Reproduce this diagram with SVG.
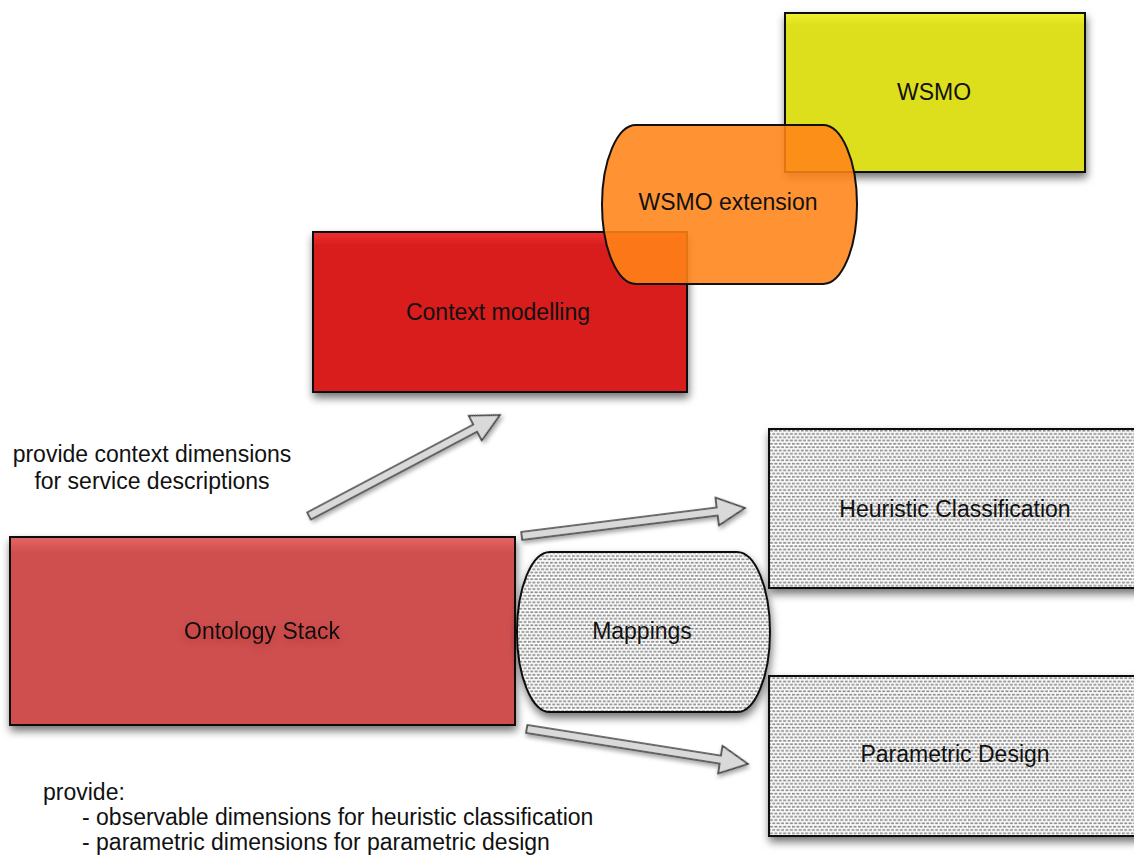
<svg xmlns="http://www.w3.org/2000/svg" width="1134" height="857" viewBox="0 0 1134 857">
  <defs>
    <filter id="shadow" x="-10%" y="-10%" width="125%" height="130%">
      <feDropShadow dx="1" dy="5" stdDeviation="4" flood-color="#000" flood-opacity="0.55"/>
    </filter>
    <filter id="arrowShadow" x="-10%" y="-30%" width="125%" height="170%">
      <feDropShadow dx="1" dy="3" stdDeviation="2" flood-color="#000" flood-opacity="0.35"/>
    </filter>
    <filter id="textGlow" x="-20%" y="-60%" width="140%" height="220%">
      <feGaussianBlur in="SourceAlpha" stdDeviation="5"/>
      <feOffset dy="3" result="b"/>
      <feFlood flood-color="#7a1010" flood-opacity="0.35"/>
      <feComposite in2="b" operator="in"/>
      <feMerge><feMergeNode/><feMergeNode in="SourceGraphic"/></feMerge>
    </filter>
    <!-- dashed halftone fill used by the method boxes -->
    <pattern id="dots" width="4.4" height="6.6" patternUnits="userSpaceOnUse">
      <rect width="4.4" height="6.6" fill="#ffffff"/>
      <rect x="0" y="0.8" width="3" height="1.7" fill="#8a8a8a"/>
      <rect x="2.2" y="4.1" width="3" height="1.7" fill="#8a8a8a"/>
      <rect x="-2.2" y="4.1" width="3" height="1.7" fill="#8a8a8a"/>
    </pattern>
    <linearGradient id="ontoFill" x1="0" y1="0" x2="0" y2="1">
      <stop offset="0" stop-color="#e76464"/>
      <stop offset="0.08" stop-color="#cf5050"/>
      <stop offset="1" stop-color="#cf4f4f"/>
    </linearGradient>
    <linearGradient id="ctxFill" x1="0" y1="0" x2="0" y2="1">
      <stop offset="0" stop-color="#f03030"/>
      <stop offset="0.08" stop-color="#d91e1e"/>
      <stop offset="1" stop-color="#d91e1e"/>
    </linearGradient>
    <linearGradient id="wsmoFill" x1="0" y1="0" x2="0" y2="1">
      <stop offset="0" stop-color="#f0f030"/>
      <stop offset="0.08" stop-color="#dddf1a"/>
      <stop offset="1" stop-color="#dddf1a"/>
    </linearGradient>
  </defs>
  <style>
    .box { stroke: #111; stroke-width: 2; filter: url(#shadow); }
    .lbl { font-family: "Liberation Sans", Arial, sans-serif; font-size: 23px; fill: #111; text-anchor: middle; }
    .note { font-family: "Liberation Sans", Arial, sans-serif; font-size: 23px; fill: #111; }
    .arrow { fill: #d9d9d9; stroke: #404040; stroke-width: 1.6; stroke-linejoin: miter; filter: url(#arrowShadow); }
  </style>

  <rect width="1134" height="857" fill="#ffffff"/>

  <g id="node-context-modelling">
    <rect class="box" x="313" y="232" width="374" height="160" fill="url(#ctxFill)"/>
    <text class="lbl" x="498" y="320">Context modelling</text>
  </g>

  <g id="node-wsmo">
    <rect class="box" x="785" y="13" width="300" height="159" fill="url(#wsmoFill)"/>
    <text class="lbl" x="934" y="100">WSMO</text>
  </g>

  <g id="node-wsmo-extension">
    <rect x="602" y="125" width="255" height="159" rx="34" ry="79.5" fill="#ff8418" fill-opacity="0.88" stroke="#111" stroke-width="2"/>
    <text class="lbl" x="728" y="210">WSMO extension</text>
  </g>

  <g id="node-ontology-stack">
    <rect class="box" x="10" y="537" width="505" height="188" fill="url(#ontoFill)"/>
    <text class="lbl" x="262" y="639" filter="url(#textGlow)">Ontology Stack</text>
  </g>

  <g id="node-mappings">
    <rect class="box" x="517" y="552" width="253" height="160" rx="33" ry="80" fill="url(#dots)"/>
    <text class="lbl" x="642" y="639">Mappings</text>
  </g>

  <g id="node-heuristic-classification">
    <rect class="box" x="769" y="429" width="400" height="159" fill="url(#dots)"/>
    <text class="lbl" x="955" y="517">Heuristic Classification</text>
  </g>

  <g id="node-parametric-design">
    <rect class="box" x="769" y="676" width="400" height="160" fill="url(#dots)"/>
    <text class="lbl" x="955" y="762">Parametric Design</text>
  </g>

  <g id="connectors">
    <!-- Ontology Stack to Context modelling -->
    <g transform="translate(500,415) rotate(-27.87)">
      <polygon class="arrow" points="0,0 -28,-14 -28,-4 -216,-4 -216,4 -28,4 -28,14"/>
    </g>
    <!-- Ontology Stack to Heuristic Classification -->
    <g transform="translate(745,508) rotate(-7.13)">
      <polygon class="arrow" points="0,0 -28,-14 -28,-4 -225,-4 -225,4 -28,4 -28,14"/>
    </g>
    <!-- Ontology Stack to Parametric Design -->
    <g transform="translate(748,764) rotate(9.0)">
      <polygon class="arrow" points="0,0 -28,-14 -28,-4 -224,-4 -224,4 -28,4 -28,14"/>
    </g>
  </g>

  <g id="annotations">
    <text class="note" x="152" y="462" text-anchor="middle">provide context dimensions</text>
    <text class="note" x="152" y="489" text-anchor="middle">for service descriptions</text>
    <text class="note" x="43" y="800">provide:</text>
    <text class="note" x="82" y="825">- observable dimensions for heuristic classification</text>
    <text class="note" x="82" y="850">- parametric dimensions for parametric design</text>
  </g>
</svg>
